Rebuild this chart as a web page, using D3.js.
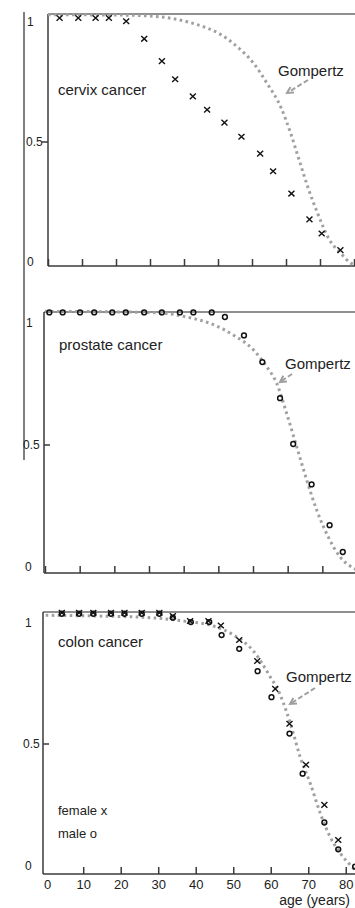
<!DOCTYPE html>
<html>
<head>
<meta charset="utf-8">
<script src="https://cdn.jsdelivr.net/npm/d3@7"></script>
<style>
  html, body { margin: 0; padding: 0; background: #fff; }
  svg { display: block; }
  text { font-family: "Liberation Sans", Arial, sans-serif; fill: #222; }
</style>
</head>
<body>
<svg id="chart" width="355" height="908"></svg>
<script>
// ---------- data ----------
const xTickValues = [0, 10, 20, 30, 40, 50, 60, 70, 80, 90];
const xTickLabels = ["0", "10", "20", "30", "40", "50", "60", "70", "80"];
const yTickValues = [0, 0.5, 1];
const yTickLabels = ["0", "0.5", "1"];

// cervix cancer (female, x)
const cervixAges   = [3.4, 8.9, 14.0, 17.9, 23.0, 28.3, 33.5, 37.4, 42.6, 46.8, 51.9, 56.9, 62.4, 66.2, 71.6, 76.9, 80.5, 86.0];
const cervixFemale = [1.0, 1.0, 1.0, 1.0, 0.987, 0.916, 0.826, 0.753, 0.684, 0.630, 0.578, 0.521, 0.453, 0.382, 0.292, 0.188, 0.131, 0.064];
const cervixGompAges = [0, 20, 30, 36.9, 44.8, 50, 54.7, 60.6, 64.5, 68.5, 71.4, 73.9, 76.4, 79.3, 82.8, 86.2, 89, 90];
const cervixGompVals = [1.013, 1.012, 1.008, 0.997, 0.969, 0.94, 0.895, 0.815, 0.735, 0.64, 0.534, 0.426, 0.319, 0.212, 0.105, 0.05, 0.012, 0.005];

// prostate cancer (male, o)
const prostateAges = [1.25, 5.1, 10.1, 14.2, 19.4, 23.3, 28.6, 33.7, 38.9, 42.8, 48.1, 51.9, 57.4, 62.7, 67.8, 71.6, 76.9, 82.1, 85.9];
const prostateMale = [1.018, 1.018, 1.018, 1.018, 1.018, 1.018, 1.018, 1.018, 1.018, 1.018, 1.018, 1.0, 0.928, 0.824, 0.683, 0.504, 0.346, 0.187, 0.082];
const prostateGompAges = [0, 20, 33.2, 40.9, 48.6, 54.3, 60.1, 63.9, 66.8, 69.7, 72.6, 75.5, 78.4, 81.7, 85.1, 88.9, 90];
const prostateGompVals = [1.022, 1.02, 1.016, 1.0, 0.97, 0.93, 0.872, 0.807, 0.742, 0.624, 0.493, 0.363, 0.245, 0.141, 0.063, 0.02, 0.012];

// colon cancer (female x, male o)
const colonFemaleAges = [4.3, 8.9, 12.7, 17.4, 21.0, 25.6, 30.3, 33.9, 38.5, 43.4, 46.7, 51.6, 56.4, 61.2, 65.0, 69.4, 74.3, 78.0];
const colonFemale     = [1.005, 1.005, 1.005, 1.005, 1.005, 1.005, 1.005, 0.992, 0.973, 0.973, 0.956, 0.900, 0.819, 0.712, 0.578, 0.420, 0.266, 0.131];
const colonMaleAges = [4.3, 8.9, 12.7, 17.4, 21.0, 25.6, 30.3, 33.9, 38.7, 43.6, 46.9, 51.6, 56.5, 60.2, 65.0, 68.5, 74.3, 78.0, 82.5];
const colonMale     = [1.001, 1.001, 1.001, 1.001, 1.001, 1.001, 1.001, 0.986, 0.969, 0.969, 0.919, 0.866, 0.780, 0.680, 0.540, 0.386, 0.198, 0.095, 0.028];
const colonGompAges = [0, 14.5, 27.8, 36.7, 44.7, 50, 55.4, 59.8, 62.5, 64.3, 66, 67.8, 70.5, 73.2, 75.8, 78.5, 81.2, 82.5, 85];
const colonGompVals = [0.995, 0.992, 0.986, 0.973, 0.954, 0.92, 0.857, 0.76, 0.69, 0.62, 0.542, 0.452, 0.35, 0.234, 0.144, 0.08, 0.035, 0.015, 0.0];

// ---------- layout ----------
const svg = d3.select("#chart");
const axisColor = "#3a3a3a";
const gompColor = "#a0a0a0";

const panels = [
  { name: "cervix cancer", xDom: [0, 90], xRange: [48, 354], y0: 266, y1: 18, top: 14, left: 48,
    ticks: xTickValues, yTickDir: -1, lab1: 4, lab0: -4, labX: [27, 26, 27],
    nameXY: [58, 94.5], gXY: [278, 76], arrow: [[308, 80], [287, 93]],
    series: [{ ages: cervixAges, vals: cervixFemale, mark: "x" }],
    gomp: [cervixGompAges, cervixGompVals] },
  { name: "prostate cancer", xDom: [0, 90], xRange: [45, 357], y0: 573, y1: 317, top: 312, left: 44,
    ticks: xTickValues, yTickDir: 1, lab1: 6, lab0: -6, labX: [25, 23, 26],
    nameXY: [59, 350], gXY: [285, 369], arrow: [[292, 374], [280, 382]],
    series: [{ ages: prostateAges, vals: prostateMale, mark: "o" }],
    gomp: [prostateGompAges, prostateGompVals] },
  { name: "colon cancer", xDom: [0, 85], xRange: [45.7, 364.5], y0: 874, y1: 614, top: 612, left: 43,
    ticks: xTickValues.slice(1, 9), yTickDir: 1, lab1: 9, lab0: -8, labX: [25, 23, 25],
    nameXY: [58, 647], gXY: [286, 682], arrow: [[315, 688], [290, 704]],
    series: [{ ages: colonMaleAges, vals: colonMale, mark: "o" },
             { ages: colonFemaleAges, vals: colonFemale, mark: "x" }],
    gomp: [colonGompAges, colonGompVals], bottomLabels: true }
];

// stray vertical line at far left (as in the scan)
svg.append("line").attr("x1", 24).attr("x2", 24).attr("y1", 12).attr("y2", 460)
  .attr("stroke", "#555").attr("stroke-width", 1.5);

panels.forEach(p => {
  const x = d3.scaleLinear().domain(p.xDom).range(p.xRange);
  const y = d3.scaleLinear().domain([0, 1]).range([p.y0, p.y1]);
  const g = svg.append("g");

  // top border
  g.append("line").attr("x1", p.left).attr("x2", 355).attr("y1", p.top).attr("y2", p.top)
    .attr("stroke", "#6a6a6a").attr("stroke-width", 1.5);

  // left axis line
  g.append("line").attr("x1", p.left).attr("x2", p.left).attr("y1", p.top).attr("y2", p.y0)
    .attr("stroke", axisColor).attr("stroke-width", 1.5);

  // y tick at 0.5
  g.append("line").attr("x1", p.left).attr("x2", p.left + p.yTickDir * 6)
    .attr("y1", y(0.5)).attr("y2", y(0.5)).attr("stroke", axisColor).attr("stroke-width", 1.5);

  // y tick labels
  yTickValues.forEach((v, i) => {
    const shift = v === 1 ? p.lab1 : (v === 0 ? p.lab0 : 0);
    g.append("text").attr("x", p.labX[i]).attr("y", y(v) + shift).attr("dy", "0.35em")
      .attr("font-size", 12).text(yTickLabels[i]);
  });

  // bottom axis with upward ticks
  const ax = d3.axisBottom(x).tickValues(p.ticks).tickSizeInner(-7).tickSizeOuter(0).tickPadding(6)
    .tickFormat(d => p.bottomLabels ? String(d) : "");
  const axg = g.append("g").attr("transform", `translate(0,${p.y0})`).call(ax);
  axg.select(".domain").attr("stroke", axisColor).attr("stroke-width", 1.5)
    .attr("d", `M${p.left},0H355`);
  axg.selectAll(".tick line").attr("stroke", axisColor).attr("stroke-width", 1.5);
  axg.selectAll(".tick text").attr("font-size", 13).attr("fill", "#222")
    .attr("font-family", "Liberation Sans, Arial, sans-serif");
  if (p.bottomLabels) {
    axg.append("g").attr("class", "tick").attr("transform", `translate(${x(0) + 2},0)`)
      .append("text").attr("y", 6).attr("dy", "0.71em").attr("text-anchor", "middle")
      .attr("font-size", 13).attr("fill", "#222").attr("font-family", "Liberation Sans, Arial, sans-serif")
      .text(xTickLabels[0]);
  }

  // Gompertz dotted curve
  const gd = p.gomp[0].map((a, i) => [a, p.gomp[1][i]]);
  g.append("path").datum(gd)
    .attr("d", d3.line().x(d => x(d[0])).y(d => y(d[1])).curve(d3.curveMonotoneX))
    .attr("fill", "none").attr("stroke", gompColor).attr("stroke-width", 3)
    .attr("stroke-dasharray", "2.6,3.4");

  // markers
  p.series.forEach(s => {
    const pts = s.ages.map((a, i) => [a, s.vals[i]]);
    if (s.mark === "x") {
      g.selectAll(null).data(pts).enter().append("path")
        .attr("transform", d => `translate(${x(d[0])},${y(d[1])})`)
        .attr("d", "M-3,-2.8L3,2.8M3,-2.8L-3,2.8")
        .attr("stroke", "#111").attr("stroke-width", 1.4).attr("fill", "none");
    } else {
      g.selectAll(null).data(pts).enter().append("circle")
        .attr("cx", d => x(d[0])).attr("cy", d => y(d[1])).attr("r", 2.4)
        .attr("stroke", "#111").attr("stroke-width", 1.5).attr("fill", "none");
    }
  });

  // texts
  g.append("text").attr("x", p.nameXY[0]).attr("y", p.nameXY[1]).attr("font-size", 15).text(p.name);
  g.append("text").attr("x", p.gXY[0]).attr("y", p.gXY[1]).attr("font-size", 15).text("Gompertz");

  // dashed arrow
  const [a0, a1] = p.arrow;
  g.append("line").attr("x1", a0[0]).attr("y1", a0[1]).attr("x2", a1[0]).attr("y2", a1[1])
    .attr("stroke", gompColor).attr("stroke-width", 2).attr("stroke-dasharray", "5,2.5");
  const ang = Math.atan2(a1[1] - a0[1], a1[0] - a0[0]);
  const L = 7, spread = 0.5;
  const w1 = [a1[0] - L * Math.cos(ang - spread), a1[1] - L * Math.sin(ang - spread)];
  const w2 = [a1[0] - L * Math.cos(ang + spread), a1[1] - L * Math.sin(ang + spread)];
  g.append("path").attr("d", `M${w1[0]},${w1[1]}L${a1[0]},${a1[1]}L${w2[0]},${w2[1]}`)
    .attr("stroke", gompColor).attr("stroke-width", 2).attr("fill", "none");
});

// legend and axis title in the bottom panel
svg.append("text").attr("x", 58).attr("y", 815).attr("font-size", 13).text("female x");
svg.append("text").attr("x", 58).attr("y", 838).attr("font-size", 13).text("male o");
svg.append("text").attr("x", 350).attr("y", 904.5).attr("font-size", 14).attr("text-anchor", "end").text("age (years)");
</script>
</body>
</html>
